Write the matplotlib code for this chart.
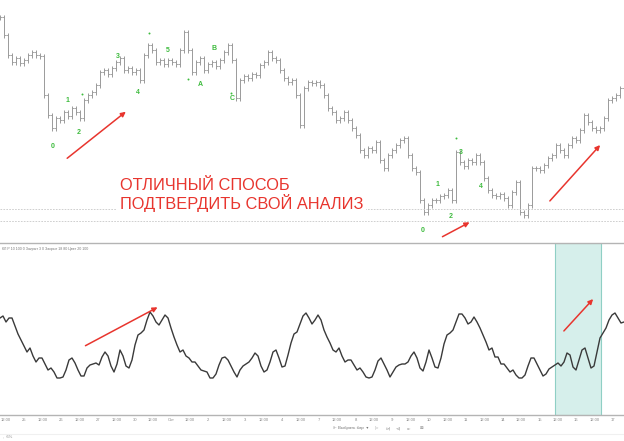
import numpy as np
import matplotlib
matplotlib.use("Agg")
import matplotlib.pyplot as plt

plt.rcParams["font.family"] = ["Liberation Sans", "DejaVu Sans"]

# ---------- данные ----------
# цены закрытия (условные единицы графика), один бар = 4 px
closes = [233, 215, 195, 188, 192, 187, 190, 195, 198, 195, 194, 155, 135, 122, 132, 130,
          138, 134, 142, 138, 132, 150, 155, 158, 165, 178, 180, 176, 182, 188, 192, 180,
          182, 178, 180, 170, 195, 205, 200, 188, 190, 186, 190, 188, 186, 200, 218, 200,
          178, 188, 192, 180, 186, 188, 184, 190, 198, 205, 190, 152, 170, 174, 172, 176,
          175, 185, 188, 198, 192, 190, 180, 172, 168, 170, 155, 125, 162, 168, 167, 168,
          165, 155, 142, 138, 130, 132, 138, 130, 122, 115, 100, 95, 102, 100, 108, 90,
          82, 95, 100, 105, 110, 112, 95, 82, 78, 50, 38, 45, 50, 50, 54, 55,
          60, 50, 98, 88, 84, 90, 88, 95, 88, 72, 60, 55, 54, 56, 52, 45,
          58, 68, 38, 35, 45, 82, 82, 80, 85, 92, 95, 105, 100, 95, 105, 112,
          110, 120, 135, 128, 122, 120, 122, 132, 150, 152, 155, 162, 165]

# осциллятор, шаг 0.75 бара
osc = [97, 99, 93, 97, 97, 89, 81, 75, 69, 63, 67, 59, 53, 57, 57, 51, 45, 47, 43, 37,
       37, 38, 45, 55, 57, 52, 45, 39, 39, 47, 50, 51, 52, 50, 58, 63, 59, 49, 43, 51,
       65, 59, 49, 47, 55, 70, 80, 82, 85, 95, 103, 99, 93, 90, 95, 100, 97, 87, 78, 70,
       63, 65, 59, 57, 53, 53, 49, 45, 44, 43, 37, 37, 41, 50, 57, 58, 55, 49, 43, 38,
       45, 49, 51, 53, 57, 62, 59, 49, 43, 45, 53, 63, 65, 57, 48, 49, 60, 72, 81, 83,
       91, 99, 102, 97, 91, 95, 100, 95, 85, 78, 72, 65, 63, 67, 59, 53, 55, 55, 50, 45,
       47, 43, 38, 37, 38, 45, 54, 57, 51, 45, 38, 43, 48, 50, 51, 51, 53, 59, 63, 57,
       47, 44, 53, 65, 57, 48, 47, 57, 71, 80, 82, 85, 93, 101, 101, 97, 91, 93, 98, 93,
       87, 80, 73, 65, 67, 58, 58, 51, 51, 47, 43, 45, 40, 37, 37, 40, 49, 57, 57, 51,
       45, 39, 41, 46, 48, 50, 52, 49, 53, 62, 60, 48, 45, 55, 65, 67, 57, 47, 49, 63,
       77, 82, 87, 95, 100, 102, 97, 92, 93]

# волновая разметка: текст, бар, цена
wave_text = ["0", "1", "2", "3", "4", "5", "A", "B", "C", "0", "1", "2", "3", "4"]
wave_bar = [13.25, 17, 19.75, 29.5, 34.5, 42, 50, 53.5, 58, 105.75, 109.5, 112.75, 115.25, 120.25]
wave_price = [103, 150, 117, 193, 157, 200, 165, 202, 151, 19, 66, 33, 98, 63]
dot_bar = [20.5, 37.25, 47, 57.75, 114]
dot_price = [156, 217, 171, 157, 112]

levels = [41, 29]                      # горизонтальные уровни
highlight = (138.75, 150.25)           # выделенный участок (бары)

# стрелки: (бар0, значение0, бар1, значение1)
top_arrows = [(16.25, 90, 32, 140), (110, 12, 118, 29), (137, 47, 150.5, 107)]
bot_arrows = [(20.75, 68, 40, 109), (140.5, 82, 148.75, 118)]

tick_labels = ["12:00", "25", "12:00", "26", "12:00", "27", "12:00", "30", "12:00", "Окт",
               "12:00", "2", "12:00", "3", "12:00", "4", "12:00", "7", "12:00", "8",
               "12:00", "9", "12:00", "10", "12:00", "11", "12:00", "14", "12:00", "15",
               "12:00", "16", "12:00", "17"]

RED = "#e8352e"
GREEN = "#3dbb3d"
GRAY = "#9a9a9a"

fig = plt.figure(figsize=(6.24, 4.41), dpi=100)
fig.patch.set_facecolor("white")

# ============================================================
# верхняя панель: ценовые бары
# ============================================================
ax = fig.add_axes([0, 199 / 441, 1, 242 / 441])
c = np.array(closes, dtype=float)
X = np.arange(len(c))
prev = np.r_[c[0], c[:-1]]
ax.vlines(X, np.minimum(prev, c) - 2.5, np.maximum(prev, c) + 2.5, color=GRAY, lw=0.7)
ax.hlines(prev, X - 0.4, X, color=GRAY, lw=0.6)
ax.hlines(c, X, X + 0.4, color=GRAY, lw=0.6)

for lv in levels:
    ax.axhline(lv, color="#c8c8c8", ls=(0, (2, 1.5)), lw=0.6)

for t, xb, yp in zip(wave_text, wave_bar, wave_price):
    ax.text(xb, yp, t, color=GREEN, fontsize=5, fontweight="bold",
            ha="center", va="center", zorder=5)
ax.scatter(dot_bar, dot_price, s=2, color=GREEN, lw=0, zorder=5)

for x0, y0, x1, y1 in top_arrows:
    ax.annotate("", xy=(x1, y1), xytext=(x0, y0),
                arrowprops=dict(arrowstyle="-|>", color=RED, lw=1.1, mutation_scale=7))

ax.text(30, 55, "ОТЛИЧНЫЙ СПОСОБ\nПОДТВЕРДИТЬ СВОЙ АНАЛИЗ", color=RED, fontsize=11.8,
        ha="left", va="center", linespacing=1.0,
        bbox=dict(facecolor="white", edgecolor="none", pad=2))

ax.set_xlim(0, 156)
ax.set_ylim(8, 250)
ax.axis("off")

# ============================================================
# нижняя панель: осциллятор
# ============================================================
ax2 = fig.add_axes([0, 26 / 441, 1, 172 / 441])
ox = np.arange(len(osc)) * 0.75
ax2.axvspan(highlight[0], highlight[1], facecolor="#d6efeb", edgecolor="#8fcfc5", lw=0.8)
ax2.plot(ox, osc, color="#3a3a3a", lw=1.0)

for x0, y0, x1, y1 in bot_arrows:
    ax2.annotate("", xy=(x1, y1), xytext=(x0, y0),
                 arrowprops=dict(arrowstyle="-|>", color=RED, lw=1.1, mutation_scale=7))

ax2.text(0.5, 166, "КЛ Р 10 100 0 Закрыт 3 0 Закрыт 18 80 Цвет 20 100",
         fontsize=2.6, color="#777777", ha="left", va="center")

ax2.set_xlim(0, 156)
ax2.set_ylim(0, 172)
for s in ["left", "right"]:
    ax2.spines[s].set_visible(False)
for s in ["top", "bottom"]:
    ax2.spines[s].set_color("#b4b4b4")
    ax2.spines[s].set_linewidth(1.0)
ax2.set_yticks([])
tick_pos = 1.5 + np.arange(len(tick_labels)) * 4.6
ax2.set_xticks(tick_pos)
ax2.set_xticklabels(tick_labels, fontsize=3, color="#888888")
ax2.tick_params(axis="x", length=0, pad=2.5)

# нижняя панель инструментов
fig.text(333 / 624, 1 - 428 / 441, "⊩ Выбрать бар  ▾", fontsize=3.2, color="#777777", va="center")
for xp, t in zip([375, 385, 396, 407, 420], ["▷", "⊳|", "⊲|", "▹▹", "⊠"]):
    fig.text(xp / 624, 1 - 428 / 441, t, fontsize=3.2, color="#888888", va="center",
             family=["DejaVu Sans"])
fig.text(3 / 624, 1 - 437 / 441, ",  6%", fontsize=3, color="#888888", va="center")
fig.add_artist(plt.Line2D([0, 1], [1 - 434 / 441] * 2, color="#f0f0f0", lw=0.8))

fig.savefig("out.png", dpi=100, facecolor="white")
plt.close()
